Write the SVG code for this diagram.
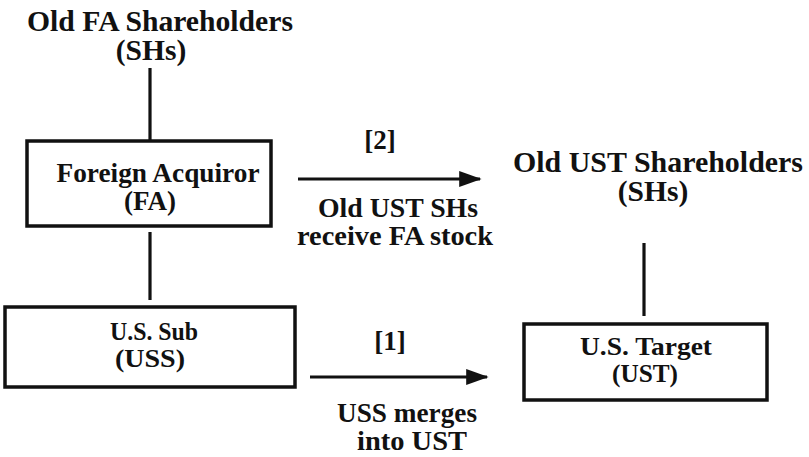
<svg xmlns="http://www.w3.org/2000/svg" width="809" height="457" viewBox="0 0 809 457">
<defs>
<style>
.box{fill:#fff;stroke:#111;stroke-width:3.5}
.ln{stroke:#111;stroke-width:3.2;fill:none}
</style>
<marker id="ah" markerWidth="7" markerHeight="5" refX="6.5" refY="2.5" orient="auto" markerUnits="strokeWidth">
<path d="M0,0 L7,2.5 L0,5 Z" fill="#111"/>
</marker>
</defs>
<rect width="809" height="457" fill="#fff"/>

<g id="connectors">
<line class="ln" x1="150" y1="68" x2="150" y2="141"/>
<line class="ln" x1="150" y1="232" x2="150" y2="300"/>
<line class="ln" x1="644" y1="243" x2="644" y2="316"/>
<line class="ln" x1="298" y1="179" x2="480" y2="179" marker-end="url(#ah)"/>
<line class="ln" x1="310" y1="377" x2="487" y2="377" marker-end="url(#ah)"/>
<g font-family="Liberation Serif" font-weight="bold" font-size="27" fill="#111" text-anchor="middle">
<text x="380" y="149">[2]</text>
<text x="398" y="217" textLength="160" lengthAdjust="spacingAndGlyphs">Old UST SHs</text>
<text x="395" y="245" textLength="196" lengthAdjust="spacingAndGlyphs">receive FA stock</text>
<text x="390" y="350">[1]</text>
<text x="407" y="422" textLength="140" lengthAdjust="spacingAndGlyphs">USS merges</text>
<text x="412" y="450" textLength="110" lengthAdjust="spacingAndGlyphs">into UST</text>
</g>
</g>

<g id="old-fa-shareholders" font-family="Liberation Serif" font-weight="bold" font-size="29.5" fill="#111" text-anchor="middle">
<text x="160" y="31" textLength="266" lengthAdjust="spacingAndGlyphs">Old FA Shareholders</text>
<text x="151" y="60">(SHs)</text>
</g>

<g id="foreign-acquiror" font-family="Liberation Serif" font-weight="bold" font-size="27" fill="#111" text-anchor="middle">
<rect class="box" x="27" y="141" width="244" height="85"/>
<text x="158" y="182" textLength="203" lengthAdjust="spacingAndGlyphs">Foreign Acquiror</text>
<text x="150" y="210">(FA)</text>
</g>

<g id="us-sub" font-family="Liberation Serif" font-weight="bold" font-size="25" fill="#111" text-anchor="middle">
<rect class="box" x="5" y="307" width="290" height="80"/>
<text x="154" y="340" textLength="88" lengthAdjust="spacingAndGlyphs">U.S. Sub</text>
<text x="150" y="367" textLength="70" lengthAdjust="spacingAndGlyphs">(USS)</text>
</g>

<g id="old-ust-shareholders" font-family="Liberation Serif" font-weight="bold" font-size="29.5" fill="#111" text-anchor="middle">
<text x="658" y="172" textLength="290" lengthAdjust="spacingAndGlyphs">Old UST Shareholders</text>
<text x="653" y="201">(SHs)</text>
</g>

<g id="us-target" font-family="Liberation Serif" font-weight="bold" font-size="26" fill="#111" text-anchor="middle">
<rect class="box" x="524" y="324" width="243" height="76"/>
<text x="646" y="355" textLength="132" lengthAdjust="spacingAndGlyphs">U.S. Target</text>
<text x="645" y="382" textLength="66" lengthAdjust="spacingAndGlyphs">(UST)</text>
</g>
</svg>
